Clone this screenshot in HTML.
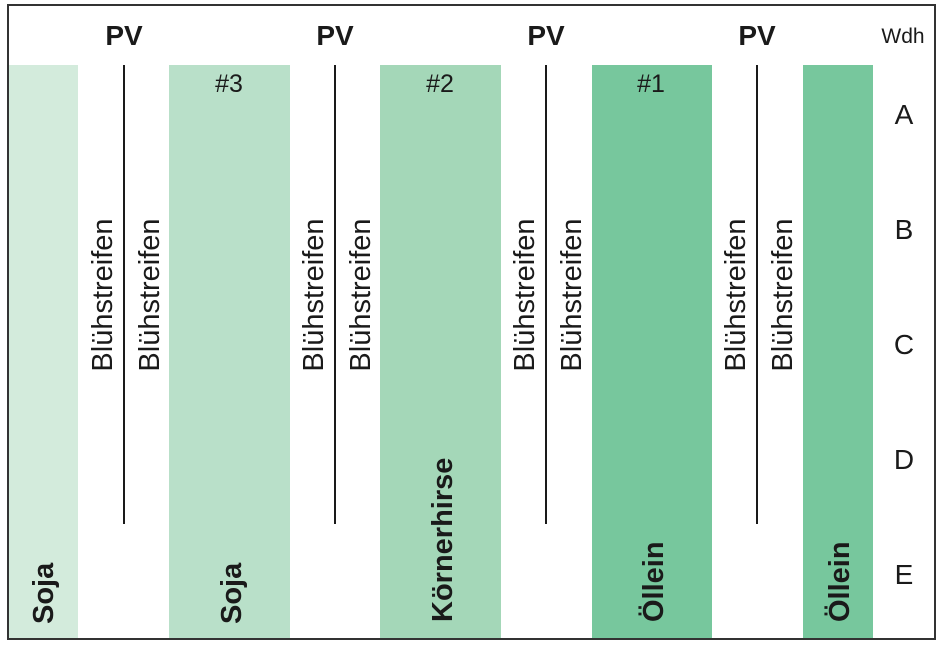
<!DOCTYPE html>
<html><head><meta charset="utf-8"><style>
html,body{margin:0;padding:0;background:#fff;}
svg{display:block;}
text{font-family:"Liberation Sans",sans-serif;fill:#1a1a1a;}
.b{font-weight:bold;}
</style></head><body>
<svg width="951" height="664" viewBox="0 0 951 664" xmlns="http://www.w3.org/2000/svg">
<rect x="0" y="0" width="951" height="664" fill="#fff"/>
<rect x="9" y="65" width="69" height="575" fill="#d3ebdc"/>
<rect x="169" y="65" width="121" height="575" fill="#b9e0c9"/>
<rect x="380" y="65" width="121" height="575" fill="#a4d7b8"/>
<rect x="592" y="65" width="120" height="575" fill="#77c79d"/>
<rect x="803" y="65" width="70" height="575" fill="#77c79d"/>
<g stroke="#1a1a1a" stroke-width="2">
<line x1="124" y1="65" x2="124" y2="524"/>
<line x1="335" y1="65" x2="335" y2="524"/>
<line x1="546" y1="65" x2="546" y2="524"/>
<line x1="757" y1="65" x2="757" y2="524"/>
</g>
<rect x="8" y="5" width="927" height="634" fill="none" stroke="#333" stroke-width="2"/>
<g class="b" font-size="28" text-anchor="middle">
<text class="b" x="124" y="45">PV</text>
<text class="b" x="335" y="45">PV</text>
<text class="b" x="546" y="45">PV</text>
<text class="b" x="757" y="45">PV</text>
</g>
<text x="903" y="43" font-size="21" text-anchor="middle">Wdh</text>
<g font-size="28" text-anchor="middle">
<text x="904" y="124">A</text>
<text x="904" y="239">B</text>
<text x="904" y="354">C</text>
<text x="904" y="469">D</text>
<text x="904" y="584">E</text>
</g>
<g font-size="25" text-anchor="middle">
<text x="229" y="92">#3</text>
<text x="440" y="92">#2</text>
<text x="651" y="92">#1</text>
</g>
<g font-size="29" text-anchor="middle">
<text transform="translate(112,295) rotate(-90)">Blühstreifen</text>
<text transform="translate(159,295) rotate(-90)">Blühstreifen</text>
<text transform="translate(323,295) rotate(-90)">Blühstreifen</text>
<text transform="translate(370,295) rotate(-90)">Blühstreifen</text>
<text transform="translate(534,295) rotate(-90)">Blühstreifen</text>
<text transform="translate(581,295) rotate(-90)">Blühstreifen</text>
<text transform="translate(745,295) rotate(-90)">Blühstreifen</text>
<text transform="translate(792,295) rotate(-90)">Blühstreifen</text>
</g>
<g font-size="29" font-weight="bold" text-anchor="start">
<text class="b" transform="translate(53,624) rotate(-90)">Soja</text>
<text class="b" transform="translate(241,624) rotate(-90)">Soja</text>
<text class="b" transform="translate(452,622) rotate(-90)">Körnerhirse</text>
<text class="b" transform="translate(663,622) rotate(-90)">Öllein</text>
<text class="b" transform="translate(849,622) rotate(-90)">Öllein</text>
</g>
</svg>
</body></html>
